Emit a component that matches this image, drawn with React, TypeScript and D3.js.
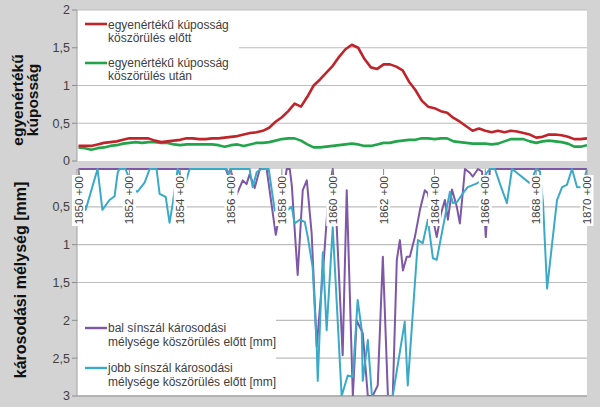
import React from "react";
import * as d3 from "d3";

// ---- Top chart: equivalent conicity ----
const topStations = [
  1850, 1850.25, 1850.5, 1850.75, 1851, 1851.25, 1851.5, 1851.75,
  1852, 1852.25, 1852.5, 1852.75, 1853, 1853.25, 1853.5, 1853.75,
  1854, 1854.25, 1854.5, 1854.75, 1855, 1855.25, 1855.5, 1855.75,
  1856, 1856.25, 1856.5, 1856.75, 1857, 1857.25, 1857.5, 1857.75,
  1858, 1858.25, 1858.5, 1858.75, 1859, 1859.25, 1859.5, 1859.75,
  1860, 1860.25, 1860.5, 1860.75, 1861, 1861.25, 1861.5, 1861.75,
  1862, 1862.25, 1862.5, 1862.75, 1863, 1863.25, 1863.5, 1863.75,
  1864, 1864.25, 1864.5, 1864.75, 1865, 1865.25, 1865.5, 1865.75,
  1866, 1866.25, 1866.5, 1866.75, 1867, 1867.25, 1867.5, 1867.75,
  1868, 1868.25, 1868.5, 1868.75, 1869, 1869.25, 1869.5, 1869.75,
  1870,
];
const conicityBefore = [
  0.2, 0.2, 0.2, 0.22, 0.24, 0.25, 0.26, 0.28,
  0.3, 0.3, 0.3, 0.3, 0.27, 0.25, 0.26, 0.27,
  0.28, 0.3, 0.3, 0.29, 0.29, 0.3, 0.3, 0.31,
  0.32, 0.33, 0.35, 0.37, 0.38, 0.4, 0.44, 0.52,
  0.58, 0.66, 0.76, 0.72, 0.85, 1.0, 1.08, 1.17,
  1.26, 1.38, 1.48, 1.54, 1.5, 1.35, 1.24, 1.22,
  1.28, 1.28, 1.25, 1.2, 1.05, 0.94, 0.8, 0.72,
  0.7, 0.66, 0.64, 0.57, 0.52, 0.46, 0.4, 0.43,
  0.4, 0.38, 0.4, 0.38, 0.4, 0.39, 0.37, 0.35,
  0.31, 0.32, 0.35, 0.35, 0.34, 0.32, 0.29, 0.29,
  0.3,
];
const conicityAfter = [
  0.18, 0.17, 0.15, 0.17, 0.18, 0.2, 0.21, 0.23,
  0.24, 0.25, 0.24, 0.25, 0.25, 0.24, 0.24, 0.22,
  0.21, 0.22, 0.22, 0.22, 0.22, 0.22, 0.21, 0.19,
  0.21, 0.22, 0.2, 0.22, 0.24, 0.24, 0.25, 0.27,
  0.29, 0.3, 0.3, 0.27, 0.22, 0.18, 0.18, 0.19,
  0.2, 0.21, 0.22, 0.23, 0.22, 0.2, 0.2, 0.22,
  0.24, 0.24, 0.26, 0.27, 0.28, 0.28, 0.3, 0.3,
  0.29, 0.3, 0.3, 0.26, 0.25, 0.24, 0.23, 0.23,
  0.23, 0.22, 0.23, 0.26, 0.29, 0.29, 0.29, 0.26,
  0.24, 0.26, 0.27, 0.26, 0.25, 0.23, 0.19, 0.19,
  0.21,
];

// ---- Bottom chart: damage depth ----
const leftStations = [
  1850.0, 1855.79, 1855.87, 1855.98, 1856.22, 1856.46, 1856.61, 1856.73,
  1856.93, 1857.13, 1857.4, 1857.76, 1857.91, 1858.19, 1858.31, 1858.39,
  1858.62, 1858.82, 1858.98, 1859.17, 1859.37, 1859.65, 1859.84, 1860.0,
  1860.12, 1860.39, 1860.55, 1860.79, 1860.94, 1861.18, 1861.38, 1861.57,
  1861.77, 1861.97, 1862.17, 1862.36, 1862.52, 1862.64, 1862.76, 1862.91,
  1863.03, 1863.23, 1863.43, 1863.62, 1863.74, 1864.09, 1864.25, 1864.41,
  1864.53, 1864.69, 1864.88, 1865.0, 1865.2, 1865.39, 1865.51, 1865.71,
  1865.87, 1866.02, 1866.18, 1870.0,
];
const leftDepth = [
  0, 0, 0.07, 0, 0.34, 0.15, 0.2, 0.07,
  0.25, 0, 0, 0.87, 0.58, 0, 0, 0.22,
  1.4, 0.28, 0.15, 0.85, 2.35, 1.2, 0.3, 0,
  0.5, 2.46, 0.28, 3.0, 2.0, 2.17, 3.0, 3.0,
  2.86, 1.16, 3.0, 3.0, 1.2, 0.94, 1.34, 1.16,
  1.16, 0.9, 0.54, 0.28, 0.32, 0.9, 0.6, 0.41,
  0.67, 0.27, 0.5, 0.72, 0, 0.05, 0.1, 0,
  0.03, 0.9, 0, 0,
];
const rightStations = [
  1850.0, 1850.12, 1850.28, 1850.75, 1850.94, 1851.22, 1851.42, 1851.54,
  1851.61, 1851.85, 1852.17, 1852.32, 1852.6, 1852.8, 1853.07, 1853.19,
  1853.43, 1853.58, 1853.7, 1853.9, 1854.17, 1854.37, 1855.83, 1855.91,
  1855.98, 1856.73, 1856.85, 1857.01, 1857.2, 1857.48, 1857.72, 1857.95,
  1858.23, 1858.39, 1858.5, 1858.7, 1858.9, 1859.02, 1859.21, 1859.37,
  1859.41, 1859.61, 1859.76, 1860.0, 1860.35, 1860.59, 1860.79, 1860.98,
  1861.14, 1861.18, 1861.38, 1861.54, 1862.36, 1862.83, 1862.95, 1863.35,
  1863.54, 1863.74, 1863.94, 1864.09, 1864.41, 1864.61, 1864.72, 1864.88,
  1865.12, 1865.31, 1865.67, 1865.87, 1866.06, 1866.18, 1866.38, 1866.57,
  1866.85, 1867.05, 1867.24, 1867.76, 1868.0, 1868.15, 1868.27, 1868.43,
  1868.82, 1869.02, 1869.21, 1869.41, 1869.61, 1869.8, 1870.0,
];
const rightDepth = [
  0, 0.35, 0.54, 0, 0.54, 0.41, 0.36, 0.05,
  0, 0, 0.28, 0.3, 0.18, 0, 0, 0.33,
  0.37, 0.71, 0.47, 0, 0.22, 0, 0, 0.07,
  0, 0, 0.24, 0.04, 0, 0, 0.55, 0.45,
  0.54, 0.5, 0.72, 0.67, 0.7, 0.9, 1.3, 2.35,
  2.8, 1.1, 2.13, 0.77, 3.0, 2.73, 2.75, 1.73,
  2.13, 2.8, 2.26, 3.0, 3.0, 2.02, 2.86, 0.94,
  0.98, 0.67, 1.18, 1.2, 0.64, 0.3, 0.45, 0.44,
  0.32, 0.24, 0.19, 0.15, 0.05, 0, 0, 0.19,
  0.45, 0, 0.05, 0.19, 0, 0.03, 0.45, 1.58,
  0.41, 0.24, 0.21, 0, 0.24, 0.24, 0,
];

const topTicks = [0, 0.5, 1, 1.5, 2];
const bottomTicks = [0.5, 1, 1.5, 2, 2.5, 3];
const stationLabels = [1850, 1852, 1854, 1856, 1858, 1860, 1862, 1864, 1866, 1868, 1870];

const seriesNames = {
  before: ["egyenértékű kúposság", "köszörülés előtt"],
  after: ["egyenértékű kúposság", "köszörülés után"],
  left: ["bal sínszál károsodási", "mélysége köszörülés előtt [mm]"],
  right: ["jobb sínszál károsodási", "mélysége köszörülés előtt [mm]"],
};

const FONT = "Arial, 'Liberation Sans', sans-serif";
const fmt = (v: number) => String(v).replace(".", ",");

export default function App() {
  const W = 600;
  const H = 407;
  const L = 77;
  const R = 587;
  const topT = 10;
  const topB = 161;
  const botT = 169;
  const botB = 396;

  const x = d3.scaleLinear().domain([1850, 1870]).range([78.5, R]);
  const yTop = d3.scaleLinear().domain([0, 2]).range([topB, topT]);
  const yBot = d3.scaleLinear().domain([0, 3]).range([botT, botB]);

  const topLine = (vals: number[]) =>
    d3
      .line<number>()
      .x((_, i) => x(topStations[i]))
      .y((d) => yTop(d))(vals) || "";
  const botLine = (st: number[], vals: number[]) =>
    d3
      .line<number>()
      .x((_, i) => x(st[i]))
      .y((d) => yBot(Math.min(d, 3)))(vals) || "";

  const grid = "#bdbdbd";
  const textCol = "#404040";

  return (
    <svg
      width={W}
      height={H}
      style={{ position: "absolute", left: 0, top: 0, display: "block" }}
      fontFamily={FONT}
    >
      <defs>
        <clipPath id="clipTop">
          <rect x={L} y={topT - 2} width={R - L} height={topB - topT + 2} />
        </clipPath>
        <clipPath id="clipBot">
          <rect x={L} y={botT - 1} width={R - L} height={botB - botT + 1} />
        </clipPath>
      </defs>
      <rect x={0} y={0} width={W} height={H} fill="#d3d3d3" />

      {/* ---------- TOP CHART ---------- */}
      <rect x={L} y={topT} width={R - L} height={topB - topT} fill="#ffffff" />
      {topTicks.map((t) => (
        <g key={"tg" + t}>
          {t > 0 && (
            <line x1={L} x2={R} y1={yTop(t)} y2={yTop(t)} stroke={grid} strokeWidth={1.2} />
          )}
          <line x1={L - 5} x2={L} y1={yTop(t)} y2={yTop(t)} stroke="#8c8c8c" />
          <text
            x={70}
            y={yTop(t)}
            dy="0.35em"
            textAnchor="end"
            fontSize={12.5}
            fill={textCol}
          >
            {fmt(t)}
          </text>
        </g>
      ))}
      <line x1={L} x2={L} y1={topT} y2={topB} stroke="#a0a0a0" />
      {/* legend box */}
      <rect x={L + 1} y={14} width={161} height={68} fill="#ffffff" />
      <g clipPath="url(#clipTop)">
        <path d={topLine(conicityAfter)} fill="none" stroke="#22a54a" strokeWidth={2.6} strokeLinejoin="round" />
        <path d={topLine(conicityBefore)} fill="none" stroke="#c0242b" strokeWidth={2.6} strokeLinejoin="round" />
      </g>
      {/* legend */}
      <line x1={85} x2={107} y1={24} y2={24} stroke="#c0242b" strokeWidth={2.6} />
      <text x={108} y={29} fontSize={12} fill={textCol}>{seriesNames.before[0]}</text>
      <text x={108} y={42} fontSize={12} fill={textCol}>{seriesNames.before[1]}</text>
      <line x1={85} x2={107} y1={63} y2={63} stroke="#22a54a" strokeWidth={2.6} />
      <text x={108} y={67} fontSize={12} fill={textCol}>{seriesNames.after[0]}</text>
      <text x={108} y={80} fontSize={12} fill={textCol}>{seriesNames.after[1]}</text>

      {/* top axis title */}
      <text
        transform={`translate(23,100) rotate(-90)`}
        textAnchor="middle"
        fontSize={15.5}
        fontWeight="bold"
        fill="#111"
      >
        egyenértékű
      </text>
      <text
        transform={`translate(37.5,100) rotate(-90)`}
        textAnchor="middle"
        fontSize={15.5}
        fontWeight="bold"
        fill="#111"
      >
        kúposság
      </text>

      {/* ---------- BOTTOM CHART ---------- */}
      <rect x={L} y={botT} width={R - L} height={botB - botT} fill="#ffffff" />
      {bottomTicks.map((t) => (
        <g key={"bg" + t}>
          <line x1={L} x2={R} y1={yBot(t)} y2={yBot(t)} stroke={grid} strokeWidth={1.2} />
          <line x1={L - 5} x2={L} y1={yBot(t)} y2={yBot(t)} stroke="#8c8c8c" />
          <text
            x={70}
            y={yBot(t)}
            dy="0.35em"
            textAnchor="end"
            fontSize={12.5}
            fill={textCol}
          >
            {fmt(t)}
          </text>
        </g>
      ))}
      <line x1={L} x2={L} y1={botT} y2={botB} stroke="#a0a0a0" />
      <line x1={L} x2={R} y1={botB} y2={botB} stroke="#a8a8a8" strokeWidth={1.5} />
      {/* legend box */}
      <rect x={L + 1} y={302} width={198} height={92} fill="#ffffff" />
      <g clipPath="url(#clipBot)">
        <path d={botLine(leftStations, leftDepth)} fill="none" stroke="#7e57a6" strokeWidth={2} strokeLinejoin="round" />
        <path d={botLine(rightStations, rightDepth)} fill="none" stroke="#3aaac8" strokeWidth={2} strokeLinejoin="round" />
      </g>
      {/* station labels with white boxes */}
      {stationLabels.map((s) => (
        <g key={"sl" + s}>
          <line x1={x(s)} x2={x(s)} y1={botT} y2={175} stroke="#8c8c8c" />
          <rect x={x(s) - 6.5} y={175} width={13} height={51} fill="#ffffff" />
          <text
            transform={`translate(${x(s)},176) rotate(-90)`}
            textAnchor="end"
            dy="0.36em"
            fontSize={11.5}
            fill={textCol}
          >
            {`${s} +00`}
          </text>
        </g>
      ))}
      {/* legend */}
      <line x1={85} x2={107} y1={328} y2={328} stroke="#7e57a6" strokeWidth={2.4} />
      <text x={108} y={332} fontSize={12} fill={textCol}>{seriesNames.left[0]}</text>
      <text x={108} y={346} fontSize={12} fill={textCol}>{seriesNames.left[1]}</text>
      <line x1={85} x2={107} y1={368} y2={368} stroke="#3aaac8" strokeWidth={2.4} />
      <text x={108} y={372} fontSize={12} fill={textCol}>{seriesNames.right[0]}</text>
      <text x={108} y={386} fontSize={12} fill={textCol}>{seriesNames.right[1]}</text>

      {/* bottom axis title */}
      <text
        transform={`translate(26,280) rotate(-90)`}
        textAnchor="middle"
        fontSize={16}
        fontWeight="bold"
        fill="#111"
      >
        károsodási mélység [mm]
      </text>
    </svg>
  );
}
